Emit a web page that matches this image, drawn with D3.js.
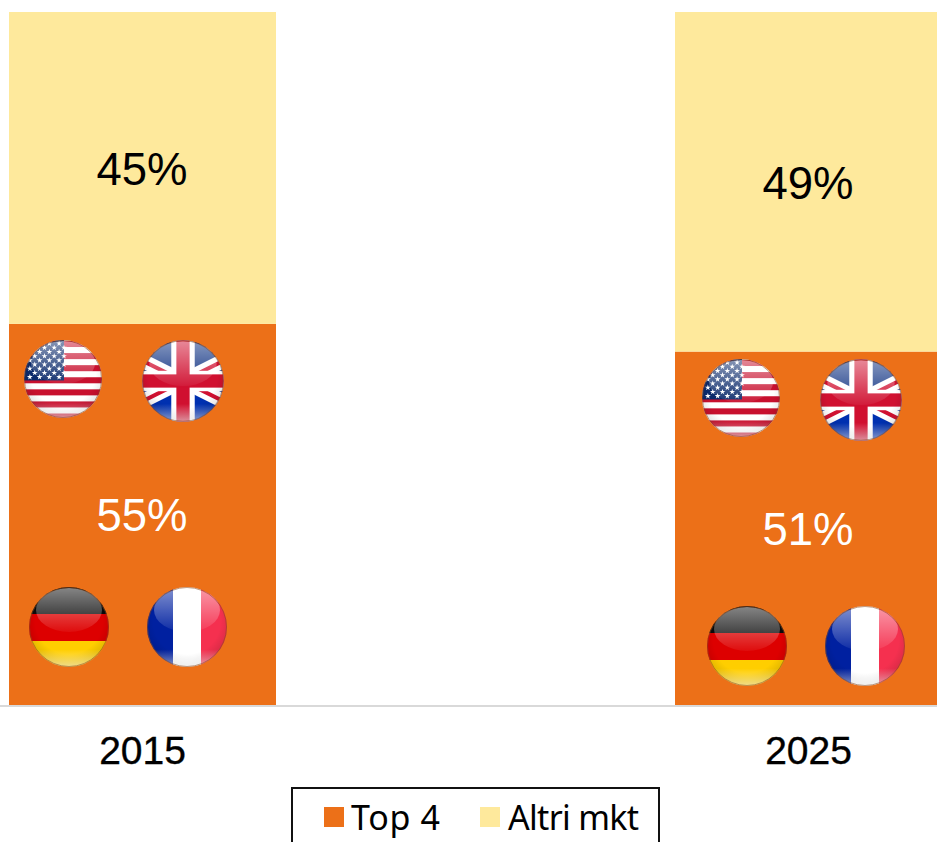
<!DOCTYPE html>
<html><head><meta charset="utf-8">
<script src="https://cdn.jsdelivr.net/npm/d3@7"></script>
<style>html,body{margin:0;padding:0;background:#fff;overflow:hidden}svg{display:block}text{font-family:"Liberation Sans",Arial,sans-serif}</style>
</head><body><div id="chart"></div>
<script>
const years = ["2015","2025"];
const top4 = [55,51];
const altri = [45,49];
const seriesNames = ["Top 4","Altri mkt"];
const seriesColors = ["#EC7018","#FEE99C"];
const flagNames = ["us","uk","de","fr"];

const W=937,H=842;
const svg=d3.select("#chart").append("svg").attr("width",W).attr("height",H);
const x=d3.scalePoint().domain(years).range([142,808]);
const y=d3.scaleLinear().domain([0,100]).range([705,12]);
const barW=267;
const defs=svg.append("defs");

const gloss=defs.append("linearGradient").attr("id","gloss").attr("x1",0).attr("y1",0).attr("x2",0).attr("y2",1);
gloss.append("stop").attr("offset","0%").attr("stop-color","#fff").attr("stop-opacity",.5);
gloss.append("stop").attr("offset","100%").attr("stop-color","#fff").attr("stop-opacity",.05);
const shade=defs.append("radialGradient").attr("id","shade").attr("cx",.5).attr("cy",.42).attr("r",.6);
shade.append("stop").attr("offset","70%").attr("stop-color","#000").attr("stop-opacity",0);
shade.append("stop").attr("offset","100%").attr("stop-color","#000").attr("stop-opacity",.15);
const rim=defs.append("linearGradient").attr("id","rim").attr("x1",0).attr("y1",0).attr("x2",0).attr("y2",1);
rim.append("stop").attr("offset","78%").attr("stop-color","#fff").attr("stop-opacity",0);
rim.append("stop").attr("offset","100%").attr("stop-color","#fff").attr("stop-opacity",.55);
defs.append("clipPath").attr("id","disc").append("circle").attr("r",40);

// segments
const stacks=d3.stack().keys([0,1]).value((d,k)=>d[k])(years.map((_,i)=>[top4[i],altri[i]]));
stacks.forEach((s,k)=>{
  svg.append("g").selectAll("rect").data(s).join("rect")
    .attr("x",(d,i)=>x(years[i])-133).attr("width",barW)
    .attr("y",d=>y(d[1])).attr("height",d=>y(d[0])-y(d[1]))
    .attr("fill",seriesColors[k]);
  svg.append("g").selectAll("text").data(s).join("text")
    .attr("x",(d,i)=>x(years[i])).attr("y",d=>(y(d[0])+y(d[1]))/2+17)
    .attr("text-anchor","middle").attr("font-size",45.5)
    .attr("fill",k===0?"#fff":"#000").text(d=>(d[1]-d[0])+"%");
});

// axis
const axis=d3.axisBottom(x).tickSize(0).tickPadding(0);
const ax=svg.append("g").attr("transform","translate(0,706)").call(axis);
ax.select(".domain").remove();
ax.append("line").attr("x1",0).attr("x2",W).attr("stroke","#d9d9d9").attr("stroke-width",2);
ax.selectAll(".tick text").attr("y",58).attr("dy",0).attr("font-size",39).attr("fill","#000")
  .attr("stroke","#000").attr("stroke-width",.35)
  .style("font-family",'"Liberation Sans",Arial,sans-serif');

// flags
function drawFlag(g,name){
  const f=g.append("g").attr("clip-path","url(#disc)");
  const R=(x,y,w,h,c)=>f.append("rect").attr("x",x).attr("y",y).attr("width",w).attr("height",h).attr("fill",c);
  if(name==="us"){
    R(-41,-41,82,82,"#fff");
    d3.range(7).forEach(i=>R(-41,-39+i*12.4,82,6.2,"#C8102E"));
    R(-41,-41,42,42.5,"#0B2A6B");
    const star=d3.symbol().type(d3.symbolStar).size(11)();
    d3.range(9).forEach(r=>d3.range(4).forEach(c=>{
      f.append("path").attr("d",star).attr("fill","#fff")
       .attr("transform",`translate(${-34+c*10+(r%2?5:0)},${-2-r*4.3})`);
    }));
  } else if(name==="uk"){
    R(-41,-41,82,41,"#0A2E80");R(-41,0,82,41,"#0030B0");
    [[-64,-32,64,32],[-64,32,64,-32]].forEach(l=>{
      f.append("line").attr("x1",l[0]).attr("y1",l[1]).attr("x2",l[2]).attr("y2",l[3]).attr("stroke","#fff").attr("stroke-width",14);
      f.append("line").attr("x1",l[0]).attr("y1",l[1]).attr("x2",l[2]).attr("y2",l[3]).attr("stroke","#D01030").attr("stroke-width",4);
    });
    R(-11.5,-41,23,82,"#fff");R(-41,-10,82,20,"#fff");
    R(-6.5,-41,13,82,"#D01030");R(-41,-6.5,82,13,"#D01030");
  } else if(name==="de"){
    R(-41,-41,82,28,"#0a0a0a");R(-41,-13,82,27,"#DD0000");R(-41,14,82,28,"#FFCE00");
  } else {
    R(-41,-41,28,82,"#0020A0");R(-14,-41,28,82,"#fff");R(14,-41,28,82,"#F5304F");
  }
  g.append("circle").attr("r",40).attr("fill","url(#shade)");
  g.append("circle").attr("r",40).attr("fill","url(#rim)");
  g.append("ellipse").attr("cx",0).attr("cy",-17).attr("rx",33).attr("ry",22).attr("fill","url(#gloss)");
  g.append("circle").attr("r",39.5).attr("fill","none").attr("stroke","#8a4a20").attr("stroke-opacity",.55).attr("stroke-width",1);
}
const flagSpots=[{dx:-79,cy:379,s:.975},{dx:41,cy:381,s:1.02},{dx:-73,cy:627,s:1},{dx:45,cy:627,s:1}];
years.forEach((yr,i)=>{
  flagNames.forEach((n,j)=>{
    const p=flagSpots[j];
    const g=svg.append("g").attr("transform",`translate(${x(yr)+p.dx+(i?12:0)},${p.cy+(i?19:0)}) scale(${p.s})`);
    drawFlag(g,n);
  });
});

// legend
const leg=svg.append("g");
leg.append("rect").attr("x",292).attr("y",788).attr("width",367).attr("height",80).attr("fill","#fff").attr("stroke","#111").attr("stroke-width",2);
const legX=[324,480];
const legLen=[89,131];
seriesNames.forEach((n,i)=>{
  leg.append("rect").attr("x",legX[i]).attr("y",807).attr("width",20).attr("height",20).attr("fill",seriesColors[i]);
  leg.append("text").attr("x",legX[i]+(i?28:27)).attr("y",830).attr("font-size",34)
    .style("font-family",'"Noto Sans",sans-serif')
    .attr("textLength",legLen[i]).attr("lengthAdjust","spacing").attr("fill","#000").text(n);
});
</script></body></html>
